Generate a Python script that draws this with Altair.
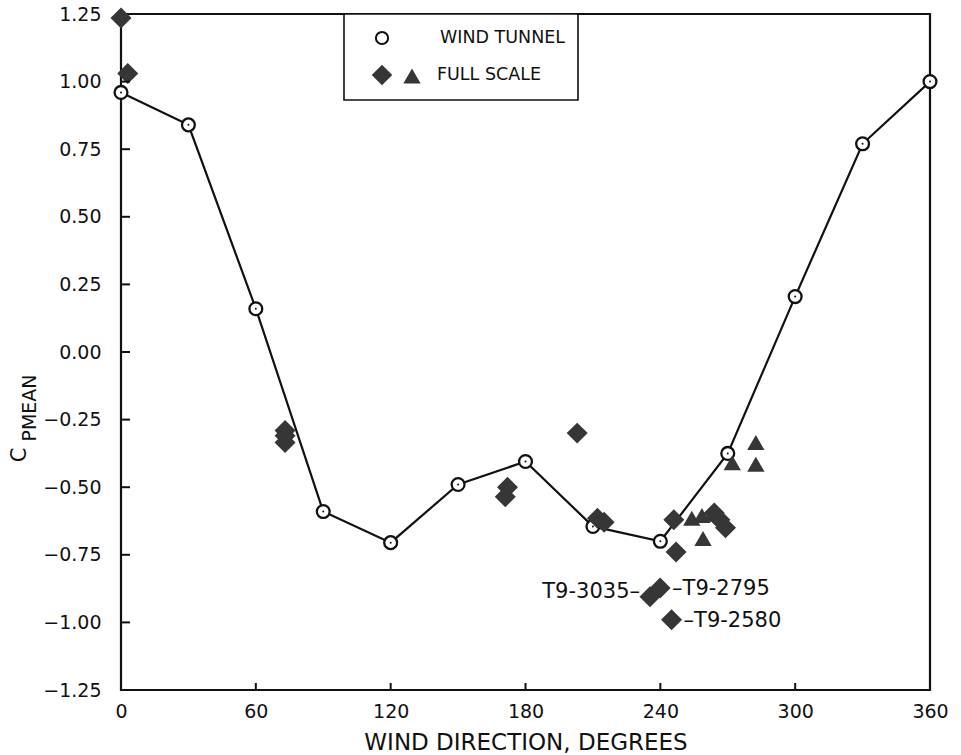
import altair as alt
import pandas as pd

# ---- data ----
wt_dir = [0, 30, 60, 90, 120, 150, 180, 210, 240, 270, 300, 330, 360]
wt_cp = [0.96, 0.84, 0.16, -0.59, -0.705, -0.49, -0.405, -0.645, -0.70, -0.375, 0.205, 0.77, 1.00]

fs_d_dir = [0, 3, 73, 73, 73, 172, 171, 203, 212, 215, 246, 247, 264, 266.5, 269, 235.4, 239.9, 245]
fs_d_cp = [1.235, 1.03, -0.29, -0.31, -0.335, -0.50, -0.535, -0.30, -0.615, -0.63, -0.62, -0.74,
           -0.595, -0.62, -0.65, -0.905, -0.873, -0.99]

fs_t_dir = [254, 258.5, 263, 259, 272, 282.5, 282.5]
fs_t_cp = [-0.615, -0.605, -0.60, -0.69, -0.41, -0.335, -0.415]

note_left_text = ["T9-3035–"]
note_left_dir = [235.4]
note_left_cp = [-0.895]
note_right_text = ["–T9-2795", "–T9-2580"]
note_right_dir = [239.9, 245]
note_right_cp = [-0.873, -0.99]

x_ticks = [0, 60, 120, 180, 240, 300, 360]
y_ticks = [-1.25, -1.0, -0.75, -0.5, -0.25, 0.0, 0.25, 0.5, 0.75, 1.0, 1.25]

legend_labels = ["WIND TUNNEL", "FULL SCALE"]
y_title_main = "C"
y_title_sub = "PMEAN"
x_title = "WIND DIRECTION, DEGREES"

FONT = "DejaVu Sans"
INK = "#111111"
MARK = "#363636"
W, H = 809, 676

wt = pd.DataFrame({"dir": wt_dir, "cp": wt_cp})
fsd = pd.DataFrame({"dir": fs_d_dir, "cp": fs_d_cp})
fst = pd.DataFrame({"dir": fs_t_dir, "cp": fs_t_cp})
nl = pd.DataFrame({"dir": note_left_dir, "cp": note_left_cp, "t": note_left_text})
nr = pd.DataFrame({"dir": note_right_dir, "cp": note_right_cp, "t": note_right_text})
xt = pd.DataFrame({"dir": x_ticks[1:-1]})
yt = pd.DataFrame({"cp": y_ticks[1:-1]})
one = pd.DataFrame({"a": [0]})

X = alt.X("dir:Q", scale=alt.Scale(domain=[0, 360], nice=False, zero=False),
          axis=alt.Axis(values=x_ticks, ticks=False, domain=False, grid=False,
                        labelFlush=False, labelOverlap=False,
                        labelFont=FONT, labelFontSize=19, labelColor=INK, labelPadding=12,
                        title=x_title, titleFont=FONT, titleFontSize=23, titleFontWeight="normal",
                        titleColor=INK, titlePadding=10))
Y = alt.Y("cp:Q", scale=alt.Scale(domain=[-1.25, 1.25], nice=False, zero=False),
          axis=alt.Axis(values=y_ticks, format=".2f", ticks=False, domain=False, grid=False,
                        labelFlush=False, labelOverlap=False,
                        labelFont=FONT, labelFontSize=19, labelColor=INK, labelPadding=20,
                        title=None))

line = alt.Chart(wt).mark_line(color=INK, strokeWidth=2.2).encode(x=X, y=Y)
circles = alt.Chart(wt).mark_point(shape="circle", size=165, filled=True, fill="white",
                                   stroke=INK, strokeWidth=2.3, opacity=1).encode(x=X, y=Y)
dots = alt.Chart(wt).mark_point(shape="circle", size=4, filled=True, color=INK, opacity=1).encode(x=X, y=Y)
diamonds = alt.Chart(fsd).mark_point(shape="diamond", size=440, filled=True, color=MARK,
                                     opacity=1).encode(x=X, y=Y)
triangles = alt.Chart(fst).mark_point(shape="triangle-up", size=300, filled=True, color=MARK,
                                      opacity=1).encode(x=X, y=Y)

notes_l = alt.Chart(nl).mark_text(align="right", baseline="middle", dx=-10, dy=-2, font=FONT,
                                  fontSize=21, color=INK).encode(x=X, y=Y, text="t:N")
notes_r = alt.Chart(nr).mark_text(align="left", baseline="middle", dx=12, dy=1, font=FONT,
                                  fontSize=21, color=INK).encode(x=X, y=Y, text="t:N")

xtick_marks = alt.Chart(xt).mark_rule(color=INK, strokeWidth=2).encode(
    x=X, y=alt.value(H), y2=alt.value(H - 7))
ytick_marks = alt.Chart(yt).mark_rule(color=INK, strokeWidth=2).encode(
    y=Y, x=alt.value(0), x2=alt.value(9))

# legend box
lg_box = alt.Chart(one).mark_rect(fill="white", stroke=INK, strokeWidth=1.6).encode(
    x=alt.value(223), x2=alt.value(457), y=alt.value(0), y2=alt.value(86))
lg_circle = alt.Chart(one).mark_point(shape="circle", size=150, filled=True, fill="white",
                                      stroke=INK, strokeWidth=2, opacity=1).encode(
    x=alt.value(261), y=alt.value(24))
lg_diamond = alt.Chart(one).mark_point(shape="diamond", size=420, filled=True, color=MARK,
                                       opacity=1).encode(x=alt.value(261), y=alt.value(61))
lg_triangle = alt.Chart(one).mark_point(shape="triangle-up", size=300, filled=True, color=MARK,
                                        opacity=1).encode(x=alt.value(291), y=alt.value(62))
lg_text1 = alt.Chart(one).mark_text(align="left", baseline="middle", font=FONT, fontSize=17.5,
                                    color=INK, text=legend_labels[0]).encode(
    x=alt.value(319), y=alt.value(24))
lg_text2 = alt.Chart(one).mark_text(align="left", baseline="middle", font=FONT, fontSize=17.5,
                                    color=INK, text=legend_labels[1]).encode(
    x=alt.value(316), y=alt.value(61))

# y-axis title with subscript
yt_main = alt.Chart(one).mark_text(angle=270, align="center", baseline="middle", font=FONT,
                                   fontSize=21, color=INK, text=y_title_main).encode(
    x=alt.value(-101), y=alt.value(441))
yt_sub = alt.Chart(one).mark_text(angle=270, align="center", baseline="middle", font=FONT,
                                  fontSize=19, color=INK, text=y_title_sub).encode(
    x=alt.value(-91), y=alt.value(394))

chart = alt.layer(
    line, circles, dots, triangles, diamonds, notes_l, notes_r,
    xtick_marks, ytick_marks,
    lg_box, lg_circle, lg_diamond, lg_triangle, lg_text1, lg_text2,
    yt_main, yt_sub,
).properties(
    width=W, height=H,
    autosize=alt.AutoSizeParams(type="none"),
    padding={"left": 121, "top": 14, "right": 31, "bottom": 65},
    background="white",
).configure_view(stroke=INK, strokeWidth=2.2)

chart.save("out.html", embed_options={"renderer": "svg", "actions": False})
